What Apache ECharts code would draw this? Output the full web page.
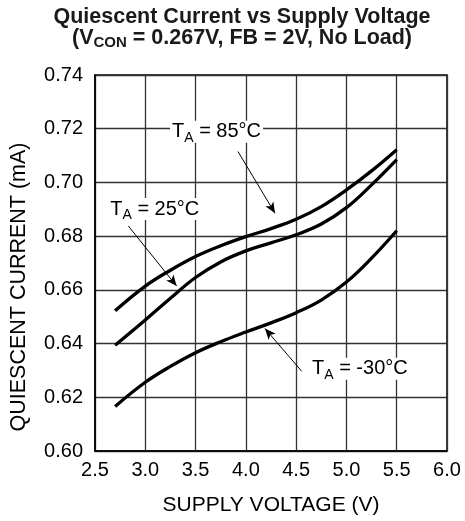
<!DOCTYPE html>
<html>
<head>
<meta charset="utf-8">
<script src="https://cdn.jsdelivr.net/npm/echarts@6/dist/echarts.min.js"></script>
<style>html,body{margin:0;padding:0;background:#fff;}#c{width:465px;height:521px;}</style>
</head>
<body>
<div id="c"></div>
<script>
// Supply voltage (V)
var voltage = [2.7, 3.0, 3.25, 3.5, 3.75, 4.0, 4.25, 4.5, 4.75, 5.0, 5.25, 5.5];
// Quiescent current (mA)
var iq85 = [0.6522, 0.6614, 0.6673, 0.6724, 0.6764, 0.6798, 0.6828, 0.6863, 0.6910, 0.6972, 0.7043, 0.7122];
var iq25 = [0.6394, 0.6488, 0.6569, 0.6646, 0.6704, 0.6745, 0.6775, 0.6805, 0.6845, 0.6906, 0.6991, 0.7085];
var iqM30 = [0.6166, 0.6256, 0.6315, 0.6366, 0.6407, 0.6443, 0.6477, 0.6515, 0.6562, 0.6629, 0.6718, 0.6820];
// tick labels
var xTicks = ['2.5', '3.0', '3.5', '4.0', '4.5', '5.0', '5.5', '6.0'];
var yTicks = ['0.60', '0.62', '0.64', '0.66', '0.68', '0.70', '0.72', '0.74'];
// annotations: label anchor [V, mA], arrow from/to [V, mA]
var labelNames = ['85', '25', '-30'];
var labelAt = [[3.246, 0.7189], [2.632, 0.6901], [4.638, 0.6306]];
var arrowFrom = [[3.922, 0.7115], [2.831, 0.6838], [4.555, 0.6297]];
var arrowTo = [[4.29, 0.6885], [3.312, 0.6614], [4.19, 0.6456]];

function pairs(xs, ys) { return xs.map(function (x, i) { return [x, ys[i]]; }); }

var FONT = '"Liberation Sans", Arial, sans-serif';
var richLabel = {
  t: { fontSize: 20, fontFamily: FONT, color: '#000', lineHeight: 22 },
  s: { fontSize: 14, fontFamily: FONT, color: '#000', lineHeight: 22, padding: [12, 0, 0, 0] }
};

var chart = echarts.init(document.getElementById('c'), null, { renderer: 'canvas' });
var lineStyle = { color: '#000', width: 3.3 };

var option = {
  animation: false,
  backgroundColor: '#fff',
  title: {
    left: 237, top: 2, textAlign: 'center',
    text: '{b|Quiescent Current vs Supply Voltage}\n{b|(V}{s|CON}{b| = 0.267V, FB = 2V, No Load)}',
    textStyle: {
      rich: {
        b: { fontSize: 21.5, fontWeight: 'bold', fontFamily: FONT, color: '#1a1a1a', lineHeight: 20.5 },
        s: { fontSize: 15, fontWeight: 'bold', fontFamily: FONT, color: '#1a1a1a', lineHeight: 20.5, padding: [10, 0, 0, 0] }
      }
    }
  },
  grid: { left: 95, right: 18, top: 75, bottom: 68, show: true, borderColor: '#000', borderWidth: 1.5, containLabel: false },
  xAxis: {
    type: 'value', min: 2.5, max: 6.0, interval: 0.5,
    name: 'SUPPLY VOLTAGE (V)', nameLocation: 'middle', nameGap: 44,
    nameTextStyle: { fontSize: 21, fontFamily: FONT, color: '#000' },
    axisLine: { show: true, lineStyle: { color: '#000', width: 1.5 } },
    axisTick: { show: false },
    axisLabel: { fontSize: 20, fontFamily: FONT, color: '#000', margin: 9,
      formatter: function (v) { var i = Math.round((v - 2.5) / 0.5); return xTicks[i]; } },
    splitLine: { show: true, lineStyle: { color: '#333', width: 1.3 } }
  },
  yAxis: {
    type: 'value', min: 0.60, max: 0.74, interval: 0.02,
    name: 'QUIESCENT CURRENT (mA)', nameLocation: 'middle', nameGap: 65,
    nameTextStyle: { fontSize: 21.5, fontFamily: FONT, color: '#000', padding: [0, 48, 0, 0] },
    axisLine: { show: true, lineStyle: { color: '#000', width: 1.5 } },
    axisTick: { show: false },
    axisLabel: { fontSize: 20, fontFamily: FONT, color: '#000', margin: 12,
      formatter: function (v) { var i = Math.round((v - 0.60) / 0.02); return yTicks[i]; } },
    splitLine: { show: true, lineStyle: { color: '#333', width: 1.3 } }
  },
  series: [
    { name: 'TA = 85°C', type: 'line', data: pairs(voltage, iq85), smooth: 0.4, symbol: 'none', lineStyle: lineStyle, z: 3 },
    { name: 'TA = 25°C', type: 'line', data: pairs(voltage, iq25), smooth: 0.4, symbol: 'none', lineStyle: lineStyle, z: 3 },
    { name: 'TA = -30°C', type: 'line', data: pairs(voltage, iqM30), smooth: 0.4, symbol: 'none', lineStyle: lineStyle, z: 3 },
    {
      name: 'annotations', type: 'line', data: [], z: 4, silent: true,
      markPoint: {
        symbol: 'circle', symbolSize: 0,
        label: {
          show: true, position: [0, 0], align: 'left', verticalAlign: 'middle',
          backgroundColor: '#fff', padding: [0, 2, 0, 2],
          rich: richLabel,
          formatter: function (p) { return '{t|T}{s|A}{t| = ' + p.name + '°C}'; }
        },
        data: labelNames.map(function (n, i) { return { name: n, coord: labelAt[i] }; })
      },
      markLine: {
        silent: true, symbol: ['none', 'arrow'], symbolSize: [7, 11],
        label: { show: false },
        lineStyle: { color: '#000', width: 1, type: 'solid' },
        emphasis: { disabled: true },
        data: arrowFrom.map(function (f, i) { return [{ coord: f }, { coord: arrowTo[i] }]; })
      }
    }
  ]
};
chart.setOption(option);
</script>
</body>
</html>
